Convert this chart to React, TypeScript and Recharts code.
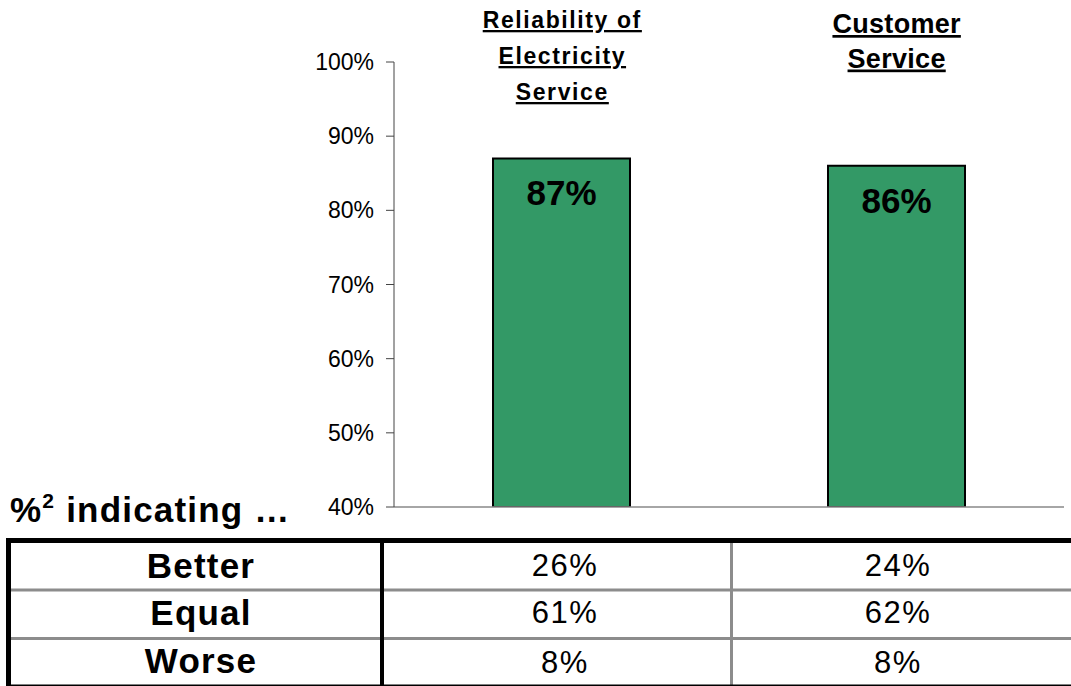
import React from 'react';
import { BarChart, Bar, XAxis, YAxis, LabelList } from 'recharts';

const categories = ['Reliability of Electricity Service', 'Customer Service'];
const headerLines = [['Reliability of', 'Electricity', 'Service'], ['Customer', 'Service']];
const satisfied = [87, 86];
const yTicks = [40, 50, 60, 70, 80, 90, 100];

const rowLabels = ['Better', 'Equal', 'Worse'];
const better = [26, 24];
const equal = [61, 62];
const worse = [8, 8];

const FONT = '"Liberation Sans", Arial, sans-serif';
const GREEN = '#339966';

const data = categories.map((name, i) => ({ name, value: satisfied[i] }));
const rows = [better, equal, worse];

// per-title text setup (the two titles were typeset differently)
const headerStyle = [
  { size: 23, spacing: 1.6, first: 28, step: 36 },
  { size: 27, spacing: 0.3, first: 33, step: 34.5 },
];

// Underlined, multi-line category title above each bar
const HeaderTick = (props: any) => {
  const { x, index } = props;
  const lines = headerLines[index] || [];
  const st = headerStyle[index] || headerStyle[0];
  return (
    <g>
      {lines.map((line, i) => (
        <text
          key={i}
          x={x + st.spacing / 2}
          y={st.first + i * st.step}
          textAnchor="middle"
          fontFamily={FONT}
          fontWeight="bold"
          fontSize={st.size}
          letterSpacing={st.spacing}
          fill="#000"
          style={{ textDecoration: 'underline', textDecorationThickness: 3, textUnderlineOffset: 4 } as any}
        >
          {line}
        </text>
      ))}
    </g>
  );
};

const BarValue = (props: any) => {
  const { x, y, width, value } = props;
  return (
    <text x={x + width / 2} y={y + 47} textAnchor="middle" fontFamily={FONT} fontWeight="bold" fontSize={35} fill="#000">
      {value}%
    </text>
  );
};

const colCenters = [565, 898];
const labelBase = [578, 625, 673];
const valueBase = [576, 623, 673];

function BreakdownTable() {
  return (
    <svg width={1071} height={686} style={{ position: 'absolute', left: 0, top: 0, pointerEvents: 'none' }}>
      <text x={10} y={522} fontFamily={FONT} fontWeight="bold" fontSize={35} letterSpacing={1.2} fill="#000">
        %<tspan fontSize={21} dy={-14}>2</tspan>
        <tspan dy={14}> indicating …</tspan>
      </text>
      {/* row separators */}
      <rect x={11} y={588.5} width={1060} height={3} fill="#8c8c8c" />
      <rect x={11} y={637} width={1060} height={3} fill="#8c8c8c" />
      <rect x={730} y={543} width={3} height={143} fill="#8c8c8c" />
      {/* outer frame */}
      <rect x={6} y={538} width={1065} height={5} fill="#000" />
      <rect x={6} y={538} width={5} height={148} fill="#000" />
      <rect x={380} y={538} width={4} height={148} fill="#000" />
      <rect x={6} y={684.5} width={1065} height={2} fill="#000" />
      {rowLabels.map((label, r) => (
        <g key={label}>
          <text
            x={201}
            y={labelBase[r]}
            textAnchor="middle"
            fontFamily={FONT}
            fontWeight="bold"
            fontSize={35}
            letterSpacing={1.2}
            fill="#000"
          >
            {label}
          </text>
          {rows[r].map((v, c) => (
            <text
              key={c}
              x={colCenters[c]}
              y={valueBase[r]}
              textAnchor="middle"
              fontFamily={FONT}
              fontSize={31}
              letterSpacing={1.5}
              fill="#000"
            >
              {v}%
            </text>
          ))}
        </g>
      ))}
    </svg>
  );
}

export default function App() {
  return (
    <div style={{ position: 'absolute', left: 0, top: 0, width: 1071, height: 686, background: '#fff', overflow: 'hidden' }}>
      <BarChart width={1071} height={530} data={data} margin={{ top: 22, right: 7, left: 0, bottom: 3 }} barSize={137}>
        <XAxis dataKey="name" height={20} tick={false} tickLine={false} axisLine={{ stroke: '#888', strokeWidth: 1.5 }} />
        <XAxis
          xAxisId="top"
          orientation="top"
          dataKey="name"
          height={40}
          axisLine={false}
          tickLine={false}
          tick={<HeaderTick />}
          interval={0}
        />
        <YAxis
          width={394}
          domain={[40, 100]}
          ticks={yTicks}
          interval={0}
          allowDataOverflow
          tickFormatter={(v: number) => `${v}%`}
          tick={{ fontSize: 23, fill: '#000', fontFamily: FONT }}
          tickSize={8}
          tickMargin={12}
          axisLine={{ stroke: '#444' }}
          tickLine={{ stroke: '#444' }}
        />
        <Bar dataKey="value" fill={GREEN} stroke="#000" strokeWidth={2} isAnimationActive={false}>
          <LabelList dataKey="value" content={<BarValue />} />
        </Bar>
      </BarChart>
      <BreakdownTable />
    </div>
  );
}
